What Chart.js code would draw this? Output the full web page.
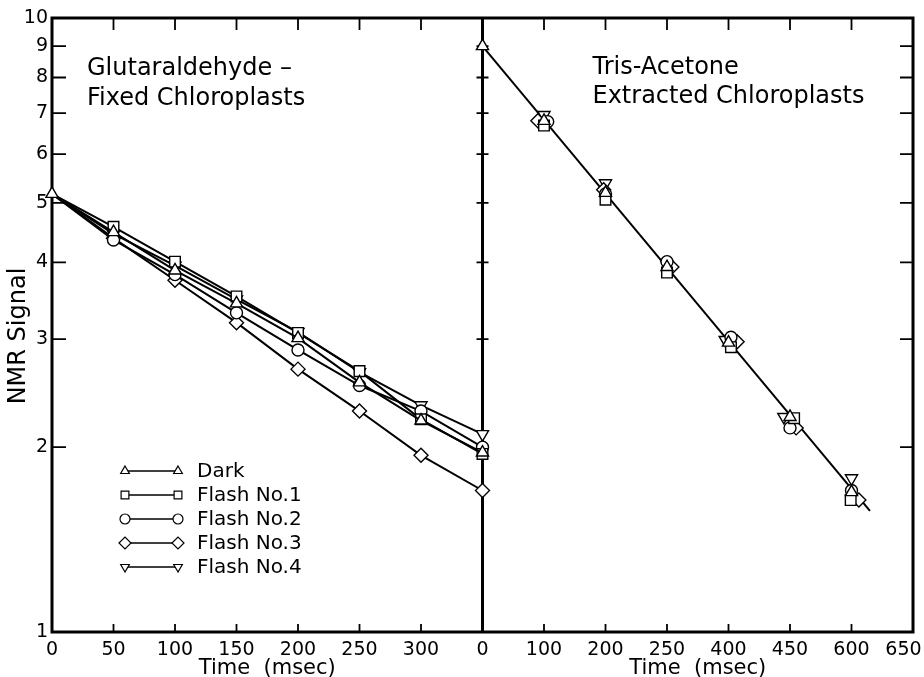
<!DOCTYPE html>
<html>
<head>
<meta charset="utf-8">
<script src="https://cdn.jsdelivr.net/npm/chart.js@4.4.1/dist/chart.umd.min.js"></script>
<style>
  html, body { margin: 0; padding: 0; background: #fff; }
  #wrap { width: 924px; height: 677px; }
</style>
</head>
<body>
<div id="wrap"><canvas id="nmr" width="924" height="677"></canvas></div>
<script>
const seriesNames = ['Dark', 'Flash No.1', 'Flash No.2', 'Flash No.3', 'Flash No.4'];

// left panel: glutaraldehyde-fixed
const leftTickLabels = [0, 50, 100, 150, 200, 250, 300];
const leftTimes = [0, 50, 100, 150, 200, 250, 300, 350];
const leftDark   = [5.17, 4.48, 3.88, 3.43, 3.01, 2.55, 2.21, 1.96];
const leftFlash1 = [5.17, 4.57, 4.01, 3.52, 3.07, 2.66, 2.22, 1.95];
const leftFlash2 = [5.17, 4.35, 3.82, 3.31, 2.88, 2.52, 2.29, 2.00];
const leftFlash3 = [5.17, 4.38, 3.74, 3.19, 2.68, 2.29, 1.94, 1.70];
const leftFlash4 = [5.17, 4.45, 3.95, 3.48, 3.08, 2.65, 2.34, 2.10];

// right panel: tris-acetone extracted (axis labels as printed)
const rightTickLabels = ['0', '100', '200', '250', '400', '450', '600', '650'];
const rightTimesDark   = [0, 100, 200, 250, 400, 450, 600];
const rightDark        = [9.0, 6.80, 5.19, 3.93, 2.96, 2.24, 1.69];
const rightTimesFlash1 = [100, 200, 250, 402, 460, 598];
const rightFlash1      = [6.68, 5.06, 3.85, 2.91, 2.23, 1.64];
const rightTimesFlash2 = [106, 200, 250, 402, 450, 600];
const rightFlash2      = [6.78, 5.17, 4.01, 3.02, 2.15, 1.70];
const rightTimesFlash3 = [90, 197, 262, 407, 465, 606];
const rightFlash3      = [6.80, 5.25, 3.93, 2.97, 2.15, 1.64];
const rightTimesFlash4 = [100, 200, 250, 392, 445, 600];
const rightFlash4      = [6.95, 5.38, 3.96, 2.99, 2.24, 1.78];
const rightFitTimes = [0, 615];
const rightFit      = [9.0, 1.575];

const yTicks = [1, 2, 3, 4, 5, 6, 7, 8, 9, 10];

const FONT = '"DejaVu Sans", "Liberation Sans", sans-serif';

const markers = [
  { pointStyle: 'triangle', rotation: 0, radius: 7, legendRadius: 5 },
  { pointStyle: 'rect', rotation: 0, radius: 7.5, legendRadius: 5.5 },
  { pointStyle: 'circle', rotation: 0, radius: 6, legendRadius: 5 },
  { pointStyle: 'rectRot', rotation: 0, radius: 7, legendRadius: 6 },
  { pointStyle: 'triangle', rotation: 180, radius: 7, legendRadius: 5 }
];

// the right axis is evenly spaced between its printed labels
function rightPos(t) {
  const stops = rightTickLabels.map(Number);
  for (let i = 0; i < stops.length - 1; i++) {
    if (t <= stops[i + 1]) return i + (t - stops[i]) / (stops[i + 1] - stops[i]);
  }
  return stops.length - 1;
}

const leftSeries = [leftDark, leftFlash1, leftFlash2, leftFlash3, leftFlash4];
const rightSeries = [
  [rightTimesDark, rightDark], [rightTimesFlash1, rightFlash1], [rightTimesFlash2, rightFlash2],
  [rightTimesFlash3, rightFlash3], [rightTimesFlash4, rightFlash4]
];

function markerProps(i) {
  return {
    pointStyle: markers[i].pointStyle,
    pointRotation: markers[i].rotation,
    pointBackgroundColor: '#fff',
    pointBorderColor: '#000',
    pointBorderWidth: 1.4,
    pointHoverRadius: markers[i].radius
  };
}

const datasets = [];
leftSeries.forEach((vals, i) => {
  datasets.push(Object.assign({
    label: seriesNames[i],
    xAxisID: 'x', yAxisID: 'y',
    data: leftTimes.map((t, j) => ({ x: t, y: vals[j] })),
    showLine: true,
    borderColor: '#000',
    borderWidth: 2,
    tension: 0,
    clip: false,
    pointRadius: (c) => (c.dataIndex === 0 && i !== 0 ? 0 : markers[i].radius)
  }, markerProps(i)));
});
rightSeries.forEach(([times, vals], i) => {
  datasets.push(Object.assign({
    label: seriesNames[i],
    xAxisID: 'x2', yAxisID: 'y',
    data: times.map((t, j) => ({ x: rightPos(t), y: vals[j] })),
    showLine: false,
    clip: false,
    pointRadius: markers[i].radius
  }, markerProps(i)));
});
datasets.push({
  label: 'fit',
  xAxisID: 'x2', yAxisID: 'y',
  data: rightFitTimes.map((t, j) => ({ x: rightPos(t), y: rightFit[j] })),
  showLine: true,
  borderColor: '#000',
  borderWidth: 2,
  pointRadius: 0,
  clip: false
});

function drawMarker(ctx, m, x, y, r) {
  ctx.save();
  ctx.fillStyle = '#fff';
  ctx.strokeStyle = '#000';
  ctx.lineWidth = 1.2;
  Chart.helpers.drawPoint(ctx, { pointStyle: m.pointStyle, rotation: m.rotation, radius: r, borderWidth: 1.2 }, x, y);
  ctx.restore();
}

const framePlugin = {
  id: 'frame',
  beforeDatasetsDraw(chart) {
    const { ctx, chartArea: { left, right, top, bottom }, scales } = chart;
    const xd = scales.x2.left;
    ctx.save();
    ctx.strokeStyle = '#000';
    ctx.lineWidth = 3;
    ctx.strokeRect(left, top, right - left, bottom - top);
    ctx.beginPath();
    ctx.moveTo(xd, top);
    ctx.lineTo(xd, bottom);
    ctx.stroke();

    ctx.lineWidth = 1.8;
    ctx.beginPath();
    [scales.x, scales.x2].forEach((s) => {
      s.ticks.forEach((t) => {
        const px = s.getPixelForValue(t.value);
        ctx.moveTo(px, top); ctx.lineTo(px, top + 12);
        ctx.moveTo(px, bottom); ctx.lineTo(px, bottom - 8);
      });
    });
    scales.y.ticks.forEach((t) => {
      const py = scales.y.getPixelForValue(t.value);
      ctx.moveTo(left, py); ctx.lineTo(left + 14, py);
      ctx.moveTo(right, py); ctx.lineTo(right - 13, py);
      ctx.moveTo(xd - 6, py); ctx.lineTo(xd + 6, py);
    });
    ctx.stroke();
    ctx.restore();
  },
  afterDraw(chart) {
    const { ctx, chartArea: { left, top }, scales } = chart;
    const xd = scales.x2.left;
    ctx.save();
    ctx.fillStyle = '#000';
    ctx.textBaseline = 'alphabetic';
    ctx.textAlign = 'left';
    ctx.font = '24px ' + FONT;
    ctx.fillText('Glutaraldehyde \u2013', left + 35, top + 57);
    ctx.fillText('Fixed Chloroplasts', left + 35, top + 87);
    ctx.fillText('Tris-Acetone', xd + 110, top + 56);
    ctx.fillText('Extracted Chloroplasts', xd + 110, top + 85);

    // y title
    ctx.save();
    ctx.translate(19, 336);
    ctx.rotate(-Math.PI / 2);
    ctx.textAlign = 'center';
    ctx.textBaseline = 'middle';
    ctx.font = '24px ' + FONT;
    ctx.fillText('NMR Signal', 0, 0);
    ctx.restore();

    // legend
    const lx0 = left + 73, lx1 = left + 126, tx = left + 145, ly = 471, dy = 24;
    ctx.font = '20px ' + FONT;
    ctx.textBaseline = 'middle';
    seriesNames.forEach((name, i) => {
      const y = ly + i * dy;
      ctx.lineWidth = 1.6;
      ctx.strokeStyle = '#000';
      ctx.beginPath();
      ctx.moveTo(lx0, y); ctx.lineTo(lx1, y);
      ctx.stroke();
      drawMarker(ctx, markers[i], lx0, y, markers[i].legendRadius);
      drawMarker(ctx, markers[i], lx1, y, markers[i].legendRadius);
      ctx.fillStyle = '#000';
      ctx.fillText(name, tx, y + 1);
    });
    ctx.restore();
  }
};

const tickFont = { family: FONT, size: 19 };
const titleFont = { family: FONT, size: 21, lineHeight: 1 };

function xAxisBase() {
  return {
    type: 'linear',
    position: 'bottom',
    stack: 'time',
    stackWeight: 1,
    grid: { display: false, drawTicks: false },
    border: { display: false },
    title: { display: true, text: 'Time  (msec)', color: '#000', font: titleFont, padding: { top: 0, bottom: -2 } },
    afterFit(s) { s.height = 45; s.paddingLeft = 0; s.paddingRight = 0; }
  };
}

new Chart(document.getElementById('nmr'), {
  type: 'scatter',
  data: { datasets },
  plugins: [framePlugin],
  options: {
    responsive: false,
    devicePixelRatio: 1,
    animation: false,
    events: [],
    layout: { padding: { top: 18, right: 11, left: 0, bottom: 0 } },
    plugins: { legend: { display: false }, tooltip: { enabled: false } },
    scales: {
      x: Object.assign(xAxisBase(), {
        min: 0, max: 350,
        afterBuildTicks(s) { s.ticks = leftTickLabels.map((v) => ({ value: v })); },
        ticks: { font: tickFont, color: '#000', padding: 7, maxRotation: 0, autoSkip: false,
          callback: (v) => String(v) }
      }),
      x2: Object.assign(xAxisBase(), {
        min: 0, max: rightTickLabels.length - 1,
        afterBuildTicks(s) { s.ticks = rightTickLabels.map((_, i) => ({ value: i })); },
        ticks: { font: tickFont, color: '#000', padding: 7, maxRotation: 0, autoSkip: false,
          callback: (v) => (v === rightTickLabels.length - 1 ? rightTickLabels[v] + '\u2003' : rightTickLabels[v]) }
      }),
      y: {
        type: 'logarithmic',
        position: 'left',
        min: 1, max: 10,
        grid: { display: false, drawTicks: false },
        border: { display: false },
        afterBuildTicks(s) { s.ticks = yTicks.map((v) => ({ value: v })); },
        afterFit(s) { s.width = 52; s.paddingTop = 0; s.paddingBottom = 0; },
        ticks: { font: tickFont, color: '#000', padding: 4, autoSkip: false, callback: (v) => String(v) }
      }
    }
  }
});
</script>
</body>
</html>
